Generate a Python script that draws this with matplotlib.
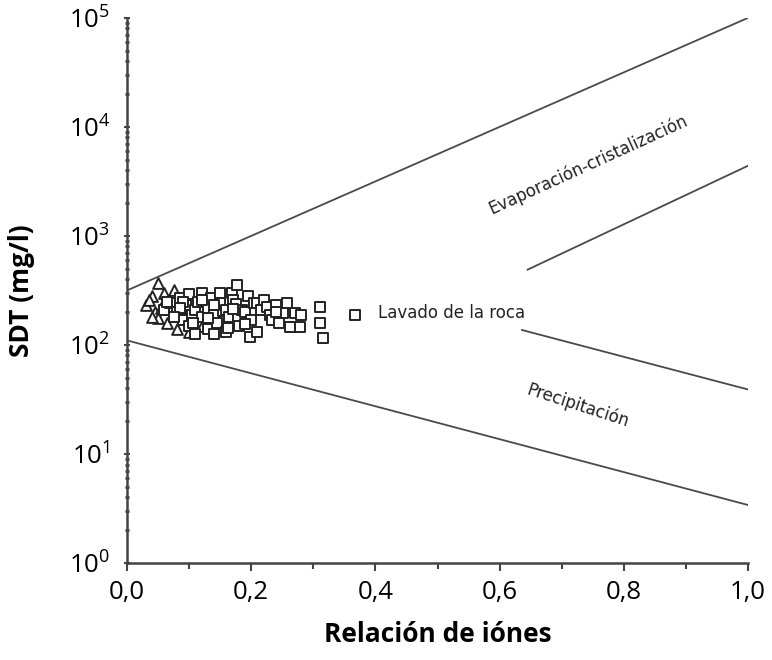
import matplotlib
matplotlib.use("Agg")
import matplotlib.pyplot as plt
import numpy as np
from matplotlib.ticker import FixedLocator, LogLocator, FuncFormatter, NullFormatter

plt.rcParams['font.family'] = ['Open Sans', 'DejaVu Sans']
plt.rcParams['mathtext.fontset'] = 'custom'
plt.rcParams['mathtext.rm'] = 'Open Sans'

# boundary lines (x, SDT)
upper_x = [0.0, 1.0]
upper_y = [316, 100000]
lower_x = [0.0, 1.0]
lower_y = [110, 3.4]
evap_x = [0.645, 1.0]
evap_y = [490, 4400]
prec_x = [0.636, 1.0]
prec_y = [137, 39]

# rock weathering samples (squares)
sq_x = [0.06, 0.07, 0.08, 0.085, 0.09, 0.095, 0.10, 0.10, 0.105, 0.11, 0.115, 0.12,
        0.12, 0.125, 0.13, 0.13, 0.135, 0.14, 0.14, 0.145, 0.15, 0.15, 0.155, 0.16,
        0.16, 0.163, 0.165, 0.169, 0.17, 0.175, 0.177, 0.179, 0.18, 0.185, 0.19, 0.195,
        0.198, 0.20, 0.205, 0.209, 0.21, 0.215, 0.22, 0.225, 0.23, 0.233, 0.24, 0.245,
        0.251, 0.258, 0.262, 0.27, 0.279, 0.311, 0.311, 0.316, 0.11, 0.14, 0.09, 0.17,
        0.13, 0.19, 0.24, 0.28, 0.085, 0.121, 0.106, 0.075, 0.065]
sq_y = [210, 240, 200, 270, 170, 230, 290, 150, 190, 210, 250, 180,
        300, 260, 140, 220, 270, 190, 125, 160, 240, 300, 205, 210,
        130, 143, 180, 300, 260, 235, 355, 181, 150, 210, 200, 280,
        119, 170, 240, 243, 130, 210, 260, 223, 190, 170, 230, 160,
        196, 243, 146, 196, 146, 223, 159, 116, 125, 230, 250, 215,
        175, 155, 200, 190, 218, 258, 159, 180, 250]

# triangles
tri_x = [0.05, 0.04, 0.03, 0.06, 0.07, 0.045, 0.065, 0.08, 0.10, 0.09, 0.05, 0.075,
         0.12, 0.035, 0.055, 0.04, 0.085]
tri_y = [370, 280, 230, 300, 250, 200, 160, 140, 130, 190, 175, 320,
         150, 260, 220, 180, 230]

key_x = [0.367]
key_y = [188]

fig = plt.figure(figsize=(7.72, 6.6), dpi=100)
ax = fig.add_axes([0.1645, 0.147, 0.8045, 0.826])

line_kw = dict(color='#4a4a4a', lw=1.3)
ax.plot(upper_x, upper_y, **line_kw)
ax.plot(lower_x, lower_y, **line_kw)
ax.plot(evap_x, evap_y, **line_kw)
ax.plot(prec_x, prec_y, **line_kw)

ax.scatter(tri_x, tri_y, marker='^', s=60, facecolors='white', edgecolors='#222222', linewidths=1.4, zorder=3)
ax.scatter(sq_x, sq_y, marker='s', s=60, facecolors='white', edgecolors='#222222', linewidths=1.4, zorder=4)
ax.scatter(key_x, key_y, marker='s', s=50, facecolors='white', edgecolors='#222222', linewidths=1.4, zorder=4)

lab_kw = dict(fontsize=12, color='#222222', family='DejaVu Sans')
ax.text(0.404, 195, 'Lavado de la roca', va='center', ha='left', **lab_kw)
ax.text(0.742, 4470, 'Evaporación-cristalización', rotation=24.5, ha='center', va='center',
        rotation_mode='anchor', **lab_kw)
ax.text(0.726, 28, 'Precipitación', rotation=-18, ha='center', va='center',
        rotation_mode='anchor', **lab_kw)

ax.set_yscale('log')
ax.set_xlim(0, 1.0)
ax.set_ylim(1, 1e5)

ax.set_xticks([0.0, 0.2, 0.4, 0.6, 0.8, 1.0])
ax.xaxis.set_minor_locator(FixedLocator([0.1, 0.3, 0.5, 0.7, 0.9]))
ax.xaxis.set_major_formatter(FuncFormatter(lambda v, p: f"{v:.1f}".replace('.', ',')))
ax.yaxis.set_major_locator(LogLocator(base=10, numticks=10))
ax.yaxis.set_minor_locator(LogLocator(base=10, subs=np.arange(2, 10), numticks=10))
ax.yaxis.set_minor_formatter(NullFormatter())
ax.yaxis.set_major_formatter(FuncFormatter(lambda v, p: r'$\mathregular{10^{%d}}$' % int(round(np.log10(v)))))

ax.tick_params(axis='both', which='major', labelsize=18.5, color='#444444', width=1.5)
ax.tick_params(axis='x', which='major', direction='out', length=6, pad=6)
ax.tick_params(axis='x', which='minor', direction='out', length=4, width=1.5, color='#444444')
ax.tick_params(axis='y', which='major', direction='inout', length=4, pad=10)
ax.tick_params(axis='y', which='minor', direction='inout', length=2.5, width=2, color='#444444')

for s in ['top', 'right']:
    ax.spines[s].set_visible(False)
for s in ['left', 'bottom']:
    ax.spines[s].set_linewidth(1.8)
    ax.spines[s].set_color('#444444')

ax.set_xlabel('Relación de iónes', fontsize=19, fontweight='bold', labelpad=12)
ax.set_ylabel('SDT (mg/l)', fontsize=19, fontweight='bold', labelpad=24)

fig.savefig('out.png', dpi=100)
